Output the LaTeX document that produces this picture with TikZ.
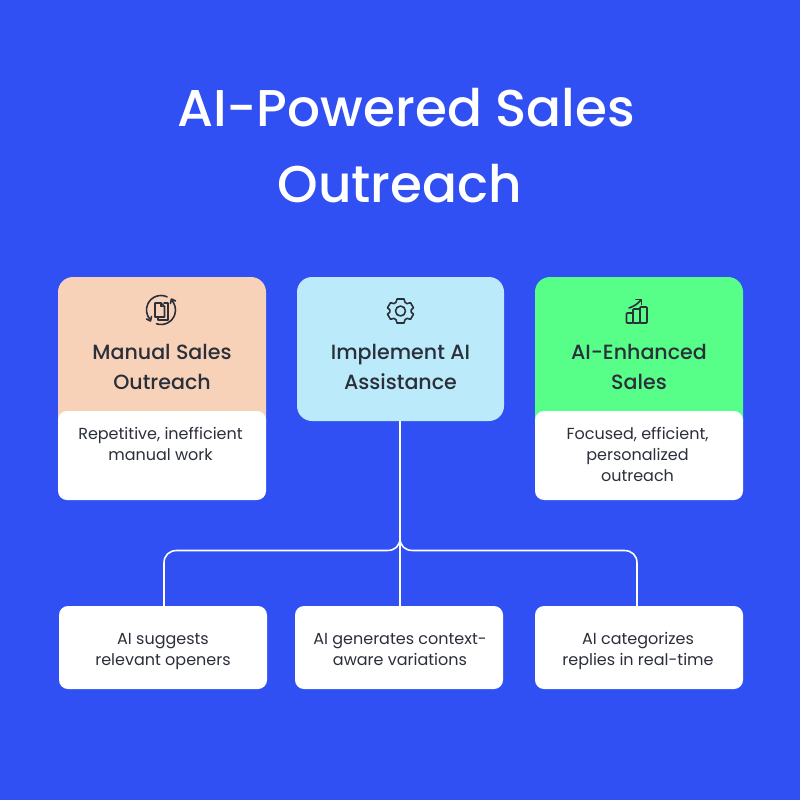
\documentclass[tikz,border=0pt]{standalone}
\usepackage{fontspec}
\setmainfont{Poppins}
\newfontfamily\medfont{Poppins Medium}
\definecolor{bgblue}{HTML}{3050F3}
\definecolor{peach}{HTML}{F7D2B8}
\definecolor{sky}{HTML}{BBEAFB}
\definecolor{mint}{HTML}{57FF88}
\definecolor{ink}{HTML}{2B2F3A}
\tikzset{
  card/.style={rounded corners=15pt,minimum width=208pt,inner sep=0pt,outer sep=0pt,anchor=north west},
  wbox/.style={fill=white,rounded corners=9pt,minimum width=208pt,inner sep=0pt,outer sep=0pt,anchor=north west},
  headtxt/.style={align=center,text=ink,font=\medfont\fontsize{20.6}{30}\selectfont,inner sep=0pt},
  bodytxt/.style={align=center,text=ink,font=\fontsize{16}{21}\selectfont,inner sep=0pt},
  titletxt/.style={align=center,text=white,font=\medfont\fontsize{51.7}{76}\selectfont,inner sep=0pt},
  wire/.style={draw=white,line width=1.6pt},
  icon/.style={draw=ink,line width=1.6pt,line join=round,line cap=round}
}
\begin{document}
\begin{tikzpicture}[x=1pt,y=-1pt]
\useasboundingbox[fill=bgblue] (0,0) rectangle (800,800);
\node[titletxt] (title) at (406,146) {AI-Powered Sales\\Outreach\kern12pt};
% cards
\node[card,fill=peach,minimum height=160pt] (manual) at (58,277) {};
\node[card,fill=mint,minimum height=160pt] (enhanced) at (535,277) {};
\node[card,fill=sky,minimum width=207pt,minimum height=144pt] (implement) at (297,277) {};
\node[wbox,minimum height=89pt] (manualbody) at (58,411) {};
\node[wbox,minimum height=89pt] (enhancedbody) at (535,411) {};
\node[headtxt] (manualtxt) at (162,367) {Manual Sales\\Outreach};
\node[headtxt] (impltxt) at (400.5,367) {Implement AI\\Assistance};
\node[headtxt] (enhtxt) at (639,367) {AI-Enhanced\\Sales};
\node[bodytxt,anchor=north] (manualb) at (160.5,426.7) {Repetitive, inefficient\\manual work};
\node[bodytxt,anchor=north] (enhb) at (637.5,426.7) {Focused, efficient,\\personalized\\outreach};
% lower boxes
\node[wbox,minimum height=83pt] (opt1) at (59,606) {};
\node[wbox,minimum height=83pt] (opt2) at (295,606) {};
\node[wbox,minimum height=83pt] (opt3) at (535,606) {};
\node[bodytxt] (opt1txt) at (163,651) {AI suggests\\relevant openers};
\node[bodytxt] (opt2txt) at (400,649.3) {AI generates context-\\aware variations};
\node[bodytxt] (opt3txt) at (638,651) {AI categorizes\\replies in real-time};
% connectors
\coordinate (fork) at (400,538);
\draw[wire] (implement.south -| fork) -- (opt2.north -| fork);
\coordinate (leftdrop) at (164,606);
\coordinate (rightdrop) at (637,606);
\draw[wire] (fork) .. controls (400,546) and (395,550.5) .. (387,550.5) -- (177,550.5)
  .. controls (169,550.5) and (164,555.5) .. (164,563) -- (leftdrop);
\draw[wire] (fork) .. controls (400,546) and (405,550.5) .. (413,550.5) -- (624,550.5)
  .. controls (632,550.5) and (637,555.5) .. (637,563) -- (rightdrop);
% gear icon
\begin{scope}[shift={(400.5,311)}]
\draw[icon] (0,0) circle (5pt);
\draw[icon] (-3.5,-12) -- (3.5,-12) -- (4.6,-8.6) .. controls (5.2,-8.3) and (6,-7.9) .. (6.6,-7.4)
  -- (10,-8.3) -- (13,-3.2) -- (10.7,-1.2)
  .. controls (10.9,-.4) and (10.9,.4) .. (10.7,1.2)
  -- (13,3.2) -- (10,8.3) -- (6.6,7.4) .. controls (6,7.9) and (5.2,8.3) .. (4.6,8.6)
  -- (3.5,12) -- (-3.5,12) -- (-4.6,8.6) .. controls (-5.2,8.3) and (-6,7.9) .. (-6.6,7.4)
  -- (-10,8.3) -- (-13,3.2) -- (-10.7,1.2) .. controls (-10.9,.4) and (-10.9,-.4) .. (-10.7,-1.2)
  -- (-13,-3.2) -- (-10,-8.3) -- (-6.6,-7.4) .. controls (-6,-7.9) and (-5.2,-8.3) .. (-4.6,-8.6) -- cycle;
\end{scope}
% chart icon
\begin{scope}[shift={(637,311.5)}]
\draw[icon,rounded corners=.8pt] (-10.5,1.5) rectangle (-4,11.5);
\draw[icon,rounded corners=.8pt] (-4,-2.5) rectangle (3,11.5);
\draw[icon,rounded corners=.8pt] (3,-4.5) rectangle (10,11.5);
\draw[icon] (-8,-3.5) .. controls (-3,-5) and (1,-8) .. (4,-11.5);
\draw[icon] (-1,-12) -- (4.5,-12) -- (4.5,-7);
\end{scope}
% documents-cycle icon
\begin{scope}[shift={(161,310)}]
\draw[icon] (0,0) ++(-65:14.5) arc (-65:-218:14.5);
\draw[icon] (0,0) ++(-252:14.5) arc (-252:-405:14.5);
\draw[icon] (-14.5,9) -- (-10.5,11) -- (-9.5,6.5);
\draw[icon] (14.5,-9) -- (10.5,-11) -- (9.5,-6.5);
\draw[icon] (-6,-7) -- (0,-7) -- (3.5,-3.5) -- (3.5,7) -- (-6,7) -- cycle;
\draw[icon] (0,-7) -- (0,-3.5) -- (3.5,-3.5);
\draw[icon] (3,-7) -- (7,-7) -- (7,10) -- (-3,10) -- (-3,8);
\end{scope}
\end{tikzpicture}
\end{document}
